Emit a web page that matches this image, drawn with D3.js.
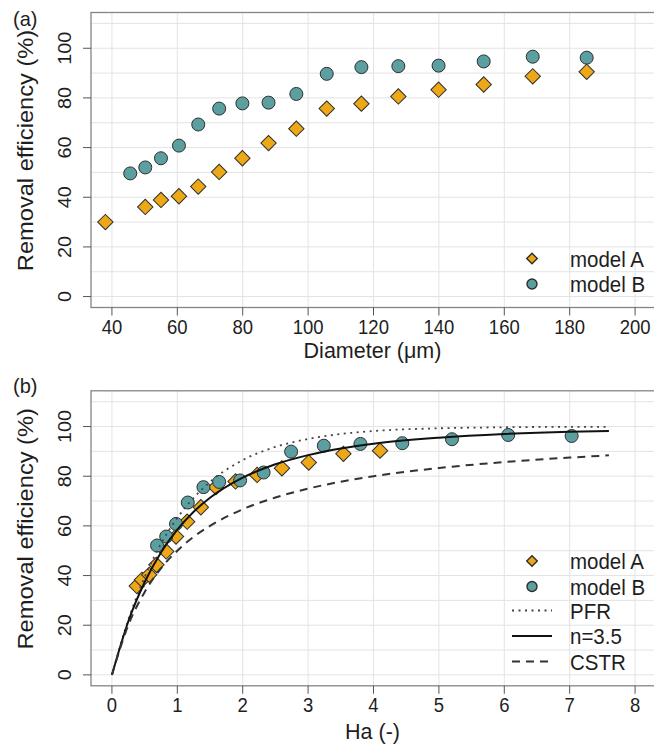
<!DOCTYPE html>
<html>
<head>
<meta charset="utf-8">
<script src="https://cdn.jsdelivr.net/npm/d3@7"></script>
<style>
  body { margin: 0; background: #fff; }
  svg { display: block; font-family: "Liberation Sans", Arial, sans-serif; }
</style>
</head>
<body>
<div id="chart"></div>
<script>
// panel (a): removal efficiency vs diameter
var diamA = [38, 50.2, 55, 60.5, 66.4, 72.8, 79.9, 87.9, 96.4, 105.7, 116.3, 127.6, 139.9, 153.7, 168.7, 185.2];
var effA  = [30, 36.1, 38.9, 40.4, 44.3, 50.2, 55.7, 61.8, 67.6, 75.7, 77.7, 80.6, 83.3, 85.4, 88.7, 90.5];
var diamB = [45.6, 50.2, 55, 60.5, 66.4, 72.8, 79.9, 87.9, 96.4, 105.7, 116.3, 127.6, 139.9, 153.7, 168.7, 185.2];
var effB  = [49.6, 52.0, 55.7, 60.8, 69.3, 75.7, 77.8, 78.1, 81.6, 89.7, 92.4, 92.8, 93.0, 94.7, 96.6, 96.2];

// panel (b): removal efficiency vs Ha
var haA   = [0.38, 0.46, 0.57, 0.68, 0.83, 0.98, 1.15, 1.36, 1.59, 1.89, 2.22, 2.60, 3.01, 3.54, 4.10];
var effA2 = [35.8, 38.3, 40.3, 44.3, 49.7, 55.7, 61.7, 67.5, 75.6, 77.9, 80.5, 83.2, 85.5, 89.0, 90.3];
var haB   = [0.69, 0.83, 0.98, 1.16, 1.40, 1.64, 1.96, 2.32, 2.74, 3.24, 3.80, 4.44, 5.20, 6.06, 7.03];
var effB2 = [52.1, 55.7, 60.8, 69.4, 75.6, 77.7, 78.3, 81.5, 89.9, 92.3, 93.0, 93.3, 94.9, 96.6, 96.2];

// model curves read along Ha
var haCurve = [0, 0.25, 0.5, 0.75, 1, 1.25, 1.5, 2, 2.5, 3, 3.5, 4, 5, 6, 7, 7.6];
var pfr  = [0, 22.1, 39.3, 52.8, 63.2, 71.3, 77.7, 86.5, 91.8, 95.0, 97.0, 98.2, 99.3, 99.7, 99.9, 99.9];
var n35  = [0, 21.5, 37.3, 49.3, 58.5, 65.7, 71.3, 79.4, 84.8, 88.5, 91.2, 93.1, 95.5, 97.0, 97.9, 98.2];
var cstr = [0, 20.0, 33.3, 42.9, 50.0, 55.6, 60.0, 66.7, 71.4, 75.0, 77.8, 80.0, 83.3, 85.7, 87.5, 88.4];

var yTicks = [0, 20, 40, 60, 80, 100];
var yGrid = d3.range(0, 111, 10);
var xTicksA = [40, 60, 80, 100, 120, 140, 160, 180, 200];
var xTicksB = [0, 1, 2, 3, 4, 5, 6, 7, 8];

var colA = "#ECA816", colB = "#5C9FA1", edge = "#2e2e2e";
var ink = "#1e1e1e", sy = 1.1; // the source figure's text is slightly stretched vertically

var svg = d3.select("#chart").append("svg")
    .attr("width", 654)
    .attr("height", 749);

var left = 91, right = 656;

// horizontal text, stretched a bit in height
function label(g, x, y, size, txt, anchor, s) {
  return g.append("text")
      .attr("transform", "translate(" + x + "," + y + ") scale(1," + (s || sy) + ")")
      .attr("text-anchor", anchor || "start")
      .attr("font-size", size)
      .attr("fill", ink)
      .text(txt);
}

function panel(top, xdom, xticks, xtitle, titleY, tag, tagY) {
  var g = svg.append("g");
  var x = d3.scaleLinear().domain(xdom).range([left, right]);
  var y = d3.scaleLinear().domain([-4.4, 114.4]).range([top + 295, top]);

  // grid
  g.selectAll(".hg").data(yGrid).enter().append("line")
      .attr("x1", left).attr("x2", right)
      .attr("y1", d => y(d)).attr("y2", d => y(d))
      .attr("stroke", "#e3e3e3").attr("stroke-width", 1);
  g.selectAll(".vg").data(xticks).enter().append("line")
      .attr("x1", d => x(d)).attr("x2", d => x(d))
      .attr("y1", top).attr("y2", top + 295)
      .attr("stroke", "#e3e3e3").attr("stroke-width", 1);

  // box
  g.append("rect")
      .attr("x", left).attr("y", top)
      .attr("width", right - left).attr("height", 295)
      .attr("fill", "none").attr("stroke", "#858585").attr("stroke-width", 1.3);

  // y axis
  g.selectAll(".yt").data(yTicks).enter().append("line")
      .attr("x1", left - 8).attr("x2", left)
      .attr("y1", d => y(d)).attr("y2", d => y(d))
      .attr("stroke", "#555");
  g.selectAll(".yl").data(yTicks).enter().append("text")
      .attr("transform", d => "translate(71," + y(d) + ") scale(1," + sy + ") rotate(-90)")
      .attr("text-anchor", "middle")
      .attr("font-size", 18)
      .attr("fill", ink)
      .text(d => d);

  // x axis
  g.selectAll(".xt").data(xticks).enter().append("line")
      .attr("x1", d => x(d)).attr("x2", d => x(d))
      .attr("y1", top + 295).attr("y2", top + 303)
      .attr("stroke", "#555");
  xticks.forEach(function(t) {
    label(g, x(t), top + 321, 18.5, t, "middle");
  });

  label(g, (left + right) / 2 - 1, titleY, 21.5, "", "middle", 1).html(xtitle);

  g.append("text")
      .attr("transform", "translate(32.5," + (top + 138) + ") scale(1," + sy + ") rotate(-90)")
      .attr("text-anchor", "middle")
      .attr("font-size", 21.5)
      .attr("fill", ink)
      .text("Removal efficiency (%)");

  label(g, 13, tagY, 20, tag, "start", 1.05);

  return {g: g, x: x, y: y};
}

var diamond = d3.symbol().type(d3.symbolSquare);

function drawA(p, xs, ys) {
  p.g.selectAll(null).data(xs).enter().append("path")
      .attr("d", diamond.size(118)())
      .attr("transform", (d, i) => "translate(" + p.x(d) + "," + p.y(ys[i]) + ") rotate(45)")
      .attr("fill", colA).attr("stroke", edge).attr("stroke-width", 1);
}
function drawB(p, xs, ys) {
  p.g.selectAll(null).data(xs).enter().append("circle")
      .attr("cx", d => p.x(d)).attr("cy", (d, i) => p.y(ys[i]))
      .attr("r", 6.5)
      .attr("fill", colB).attr("stroke", edge).attr("stroke-width", 1);
}

function legendPts(p, top0) {
  var lg = p.g.append("g");
  lg.append("path")
      .attr("d", diamond.size(56)())
      .attr("transform", "translate(532," + top0 + ") rotate(45)")
      .attr("fill", colA).attr("stroke", edge).attr("stroke-width", 1.4);
  lg.append("circle")
      .attr("cx", 532).attr("cy", top0 + 25.5).attr("r", 5)
      .attr("fill", colB).attr("stroke", edge).attr("stroke-width", 1.4);
  ["model A", "model B"].forEach(function(t, i) {
    label(lg, 570, top0 + i * 25.5 + 8, 20.5, t);
  });
}

// ---- panel (a)
var pa = panel(12.5, [33.6, 206.4], xTicksA, "Diameter (&#956;m)", 358, "(a)", 26);
drawB(pa, diamB, effB);
drawA(pa, diamA, effA);
legendPts(pa, 258.5);

// ---- panel (b)
var pb = panel(390.8, [-0.32, 8.32], xTicksB, "Ha (-)", 739, "(b)", 393);
drawA(pb, haA, effA2);
drawB(pb, haB, effB2);

var line = d3.line()
    .x((d, i) => pb.x(haCurve[i]))
    .y(d => pb.y(d))
    .curve(d3.curveMonotoneX);

var curves = [
  {name: "PFR",   vals: pfr,  dash: "2,4.5", col: "#444", w: 1.8},
  {name: "n=3.5", vals: n35,  dash: null,    col: "#111", w: 2},
  {name: "CSTR",  vals: cstr, dash: "8,6",   col: "#333", w: 2}
];
curves.forEach(function(c) {
  pb.g.append("path")
      .attr("d", line(c.vals))
      .attr("fill", "none")
      .attr("stroke", c.col)
      .attr("stroke-width", c.w)
      .attr("stroke-dasharray", c.dash);
});

legendPts(pb, 561);
curves.forEach(function(c, i) {
  var ly = 610.5 + i * 25.5;
  pb.g.append("line")
      .attr("x1", 512).attr("x2", 552)
      .attr("y1", ly).attr("y2", ly)
      .attr("stroke", c.col).attr("stroke-width", c.w)
      .attr("stroke-dasharray", c.dash);
  label(pb.g, 570, ly + 8, 20.5, c.name);
});
</script>
</body>
</html>
